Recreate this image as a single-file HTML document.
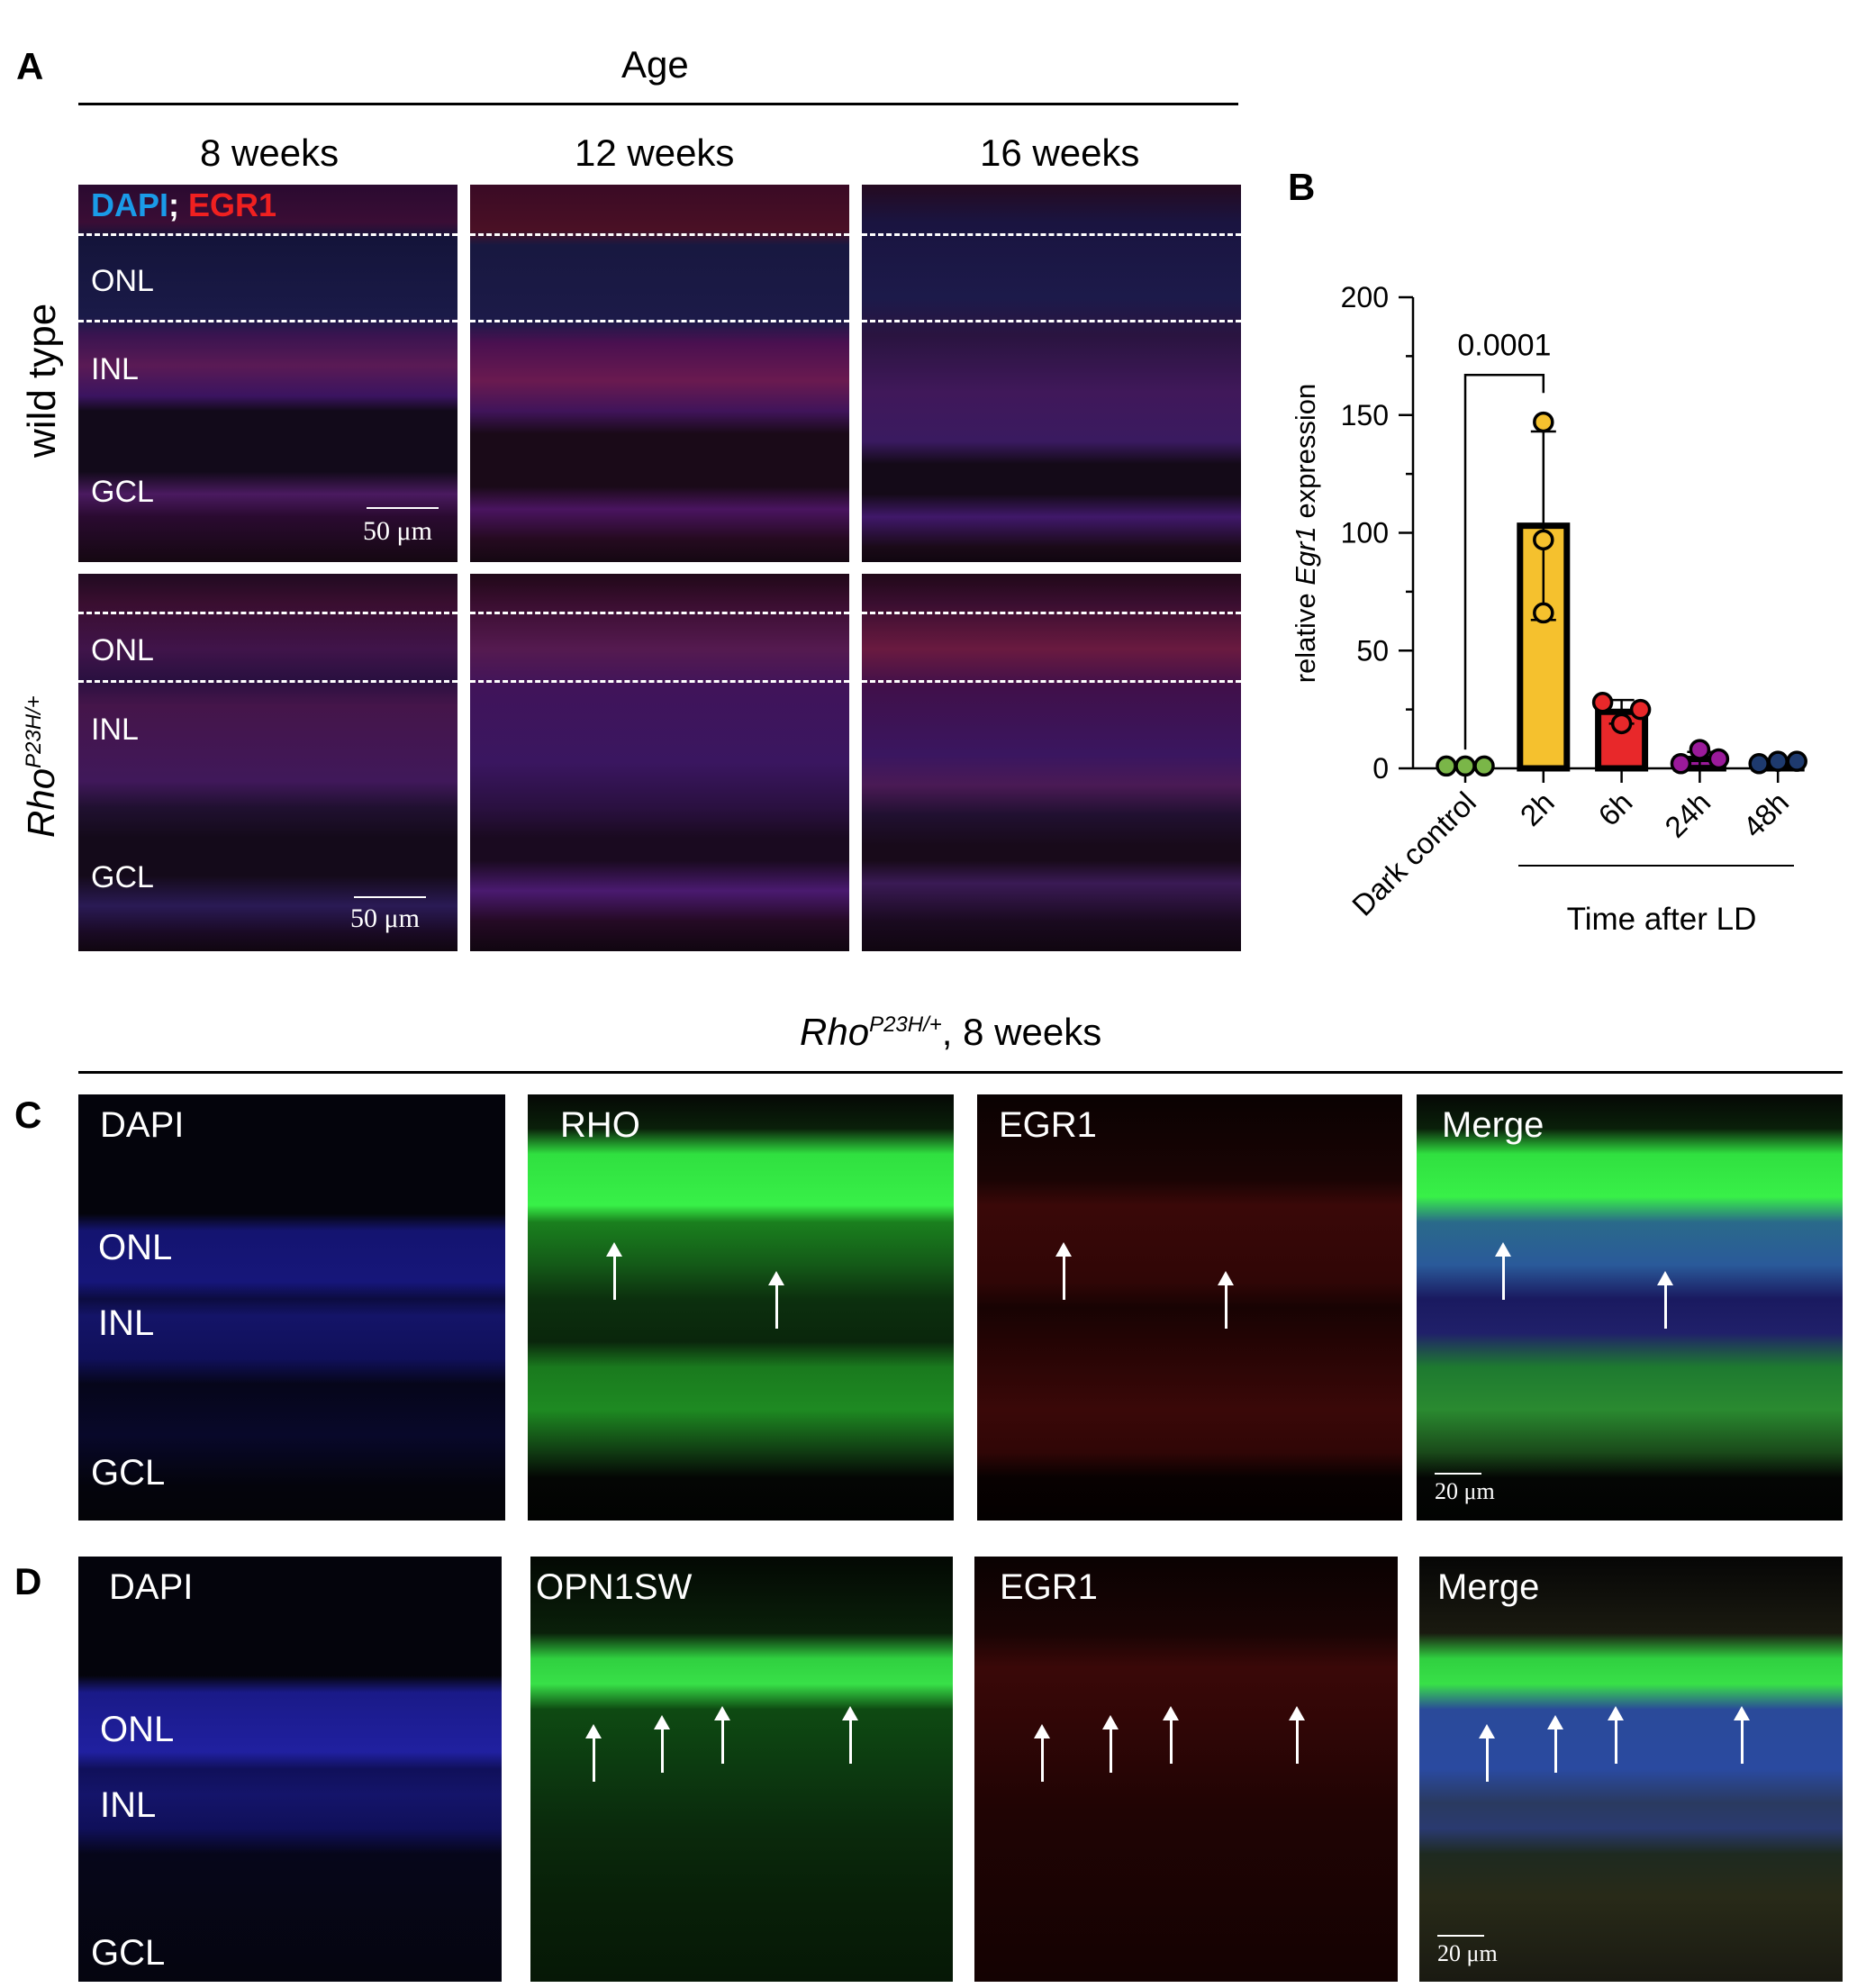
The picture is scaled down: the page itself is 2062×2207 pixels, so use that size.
<!DOCTYPE html>
<html><head><meta charset="utf-8">
<style>
body{margin:0;background:#fff;width:2062px;height:2207px;position:relative;overflow:hidden;font-family:"Liberation Sans",sans-serif}
.t{position:absolute;white-space:nowrap}
.img{position:absolute;overflow:hidden}
.lbl{position:absolute;color:#fff;font-size:34px}
.dash{position:absolute;left:0;right:0;border-top:3px dashed #fff}
.sb{position:absolute;color:#fff;font-family:"Liberation Serif",serif;font-size:30px}
.arr{position:absolute;width:3px;background:#fff;height:60px}
.arr:before{content:"";position:absolute;left:-8px;top:-4px;border-left:9.5px solid transparent;border-right:9.5px solid transparent;border-bottom:16px solid #fff}
</style></head><body>
<div class="t" style="left:18px;top:50px;font-size:42px;font-weight:bold">A</div>
<div class="t" style="left:690px;top:48px;font-size:42px">Age</div>
<div style="position:absolute;left:87px;width:1288px;top:114px;border-top:3px solid #000"></div>
<div class="t" style="left:222px;top:146px;font-size:42px">8 weeks</div>
<div class="t" style="left:638px;top:146px;font-size:42px">12 weeks</div>
<div class="t" style="left:1088px;top:146px;font-size:42px">16 weeks</div>
<div class="t" style="left:22px;top:508px;font-size:44px;transform:rotate(-90deg);transform-origin:0 0">wild type</div>
<div class="t" style="left:22px;top:930px;font-size:42px;font-style:italic;transform:rotate(-90deg);transform-origin:0 0">Rho<sup style="font-size:24px">P23H/+</sup></div>

<div class="img" style="left:87px;top:205px;width:421px;height:419px;background:linear-gradient(#2a0a30 0%,#3a0d35 10%,#14143a 14%,#1a1a48 35%,#3a1450 40%,#5a1a55 48%,#3a1460 56%,#120a1a 60%,#120a1a 76%,#4a1a60 82%,#2a0a30 88%,#150812 100%)">
<div class="dash" style="top:54px"></div><div class="dash" style="top:150px"></div>
<div class="t" style="left:14px;top:2px;font-size:36px;font-weight:bold"><span style="color:#1a9be8">DAPI</span><span style="color:#fff">;</span> <span style="color:#f02020">EGR1</span></div>
<div class="lbl" style="left:14px;top:88px">ONL</div><div class="lbl" style="left:14px;top:186px">INL</div><div class="lbl" style="left:14px;top:322px">GCL</div>
<div style="position:absolute;left:320px;top:358px;width:80px;border-top:2px solid #fff"></div><div class="sb" style="left:316px;top:368px">50 μm</div></div>
<div class="img" style="left:522px;top:205px;width:421px;height:419px;background:linear-gradient(#3a0a25 0%,#4a1025 12%,#181840 16%,#1c1a48 36%,#4a1050 42%,#6a1a50 52%,#40145a 60%,#1a0a18 66%,#1a0a18 80%,#4a1460 86%,#250a20 94%,#150812 100%)">
<div class="dash" style="top:54px"></div><div class="dash" style="top:150px"></div></div>
<div class="img" style="left:957px;top:205px;width:421px;height:419px;background:linear-gradient(#250a20 0%,#1a1440 10%,#1c1a4a 30%,#2a1440 40%,#40185a 55%,#3a1a60 68%,#140a18 74%,#140a18 82%,#40186a 88%,#1a0a18 96%,#100610 100%)">
<div class="dash" style="top:54px"></div><div class="dash" style="top:150px"></div></div>
<div class="img" style="left:87px;top:637px;width:421px;height:419px;background:linear-gradient(#200a20 0%,#3a0e30 8%,#40144a 20%,#2a1040 28%,#45154a 35%,#40185a 55%,#201030 62%,#140a1a 70%,#140a1a 80%,#2a1a55 88%,#1a0a25 95%,#100610 100%)">
<div class="dash" style="top:42px"></div><div class="dash" style="top:118px"></div>
<div class="lbl" style="left:14px;top:66px">ONL</div><div class="lbl" style="left:14px;top:154px">INL</div><div class="lbl" style="left:14px;top:318px">GCL</div>
<div style="position:absolute;left:306px;top:358px;width:80px;border-top:2px solid #fff"></div><div class="sb" style="left:302px;top:366px">50 μm</div></div>
<div class="img" style="left:522px;top:637px;width:421px;height:419px;background:linear-gradient(#200818 0%,#3a0e30 8%,#551a50 20%,#40145a 30%,#3a1660 50%,#2a1040 62%,#1a0a20 70%,#1a0a20 76%,#4a1a70 84%,#250a25 92%,#100610 100%)">
<div class="dash" style="top:42px"></div><div class="dash" style="top:118px"></div></div>
<div class="img" style="left:957px;top:637px;width:421px;height:419px;background:linear-gradient(#200818 0%,#3a0e30 8%,#6a1a40 20%,#40104a 30%,#3a1660 48%,#4a1a55 56%,#201030 64%,#180a1a 72%,#180a1a 76%,#3a1a55 82%,#1a0a20 92%,#100610 100%)">
<div class="dash" style="top:42px"></div><div class="dash" style="top:118px"></div></div>

<div class="t" style="left:1430px;top:184px;font-size:42px;font-weight:bold">B</div>
<svg id="chart" style="position:absolute;left:0;top:0" width="2062" height="1100"></svg>

<div class="t" style="left:888px;top:1122px;font-size:42px"><i>Rho<sup style="font-size:24px">P23H/+</sup></i>, 8 weeks</div>
<div style="position:absolute;left:87px;width:1959px;top:1189px;border-top:3px solid #000"></div>
<div class="t" style="left:16px;top:1214px;font-size:42px;font-weight:bold">C</div>
<div class="t" style="left:16px;top:1732px;font-size:42px;font-weight:bold">D</div>

<div class="img" style="left:87px;top:1215px;width:474px;height:473px;background:linear-gradient(#04040c 0%,#04040c 28%,#141470 32%,#16167a 44%,#0c0c40 48%,#141468 52%,#10105a 62%,#06061a 68%,#08082a 80%,#04040c 92%,#040408 100%)">
<div class="lbl" style="left:24px;top:12px;font-size:40px">DAPI</div><div class="lbl" style="left:22px;top:148px;font-size:40px">ONL</div><div class="lbl" style="left:22px;top:232px;font-size:40px">INL</div><div class="lbl" style="left:14px;top:398px;font-size:40px">GCL</div></div>
<div class="img" style="left:586px;top:1215px;width:473px;height:473px;background:linear-gradient(#050805 0%,#0a200a 8%,#30e040 14%,#38f048 26%,#1a801e 30%,#145a18 40%,#0c300e 48%,#0a260c 58%,#1a7a1e 64%,#1e8a22 74%,#103a12 84%,#040604 90%,#020302 100%)">
<div class="lbl" style="left:36px;top:12px;font-size:40px">RHO</div>
<div class="arr" style="left:95px;top:168px"></div><div class="arr" style="left:275px;top:200px"></div></div>
<div class="img" style="left:1085px;top:1215px;width:472px;height:473px;background:linear-gradient(#0a0202 0%,#1a0404 20%,#3a0808 26%,#300606 44%,#180303 50%,#2a0505 62%,#3a0808 74%,#300606 84%,#080101 90%,#040000 100%)">
<div class="lbl" style="left:24px;top:12px;font-size:40px">EGR1</div>
<div class="arr" style="left:95px;top:168px"></div><div class="arr" style="left:275px;top:200px"></div></div>
<div class="img" style="left:1573px;top:1215px;width:473px;height:473px;background:linear-gradient(#050805 0%,#0a200a 8%,#30e040 14%,#38f048 24%,#2a6a8a 30%,#2a5a9a 40%,#1a1a60 48%,#20206a 56%,#1e7a30 64%,#2a8a30 74%,#1a4a1a 84%,#040604 90%,#020302 100%)">
<div class="lbl" style="left:28px;top:12px;font-size:40px">Merge</div>
<div class="arr" style="left:95px;top:168px"></div><div class="arr" style="left:275px;top:200px"></div>
<div style="position:absolute;left:20px;top:420px;width:52px;border-top:2px solid #fff"></div><div class="sb" style="left:20px;top:426px;font-size:26px">20 μm</div></div>

<div class="img" style="left:87px;top:1728px;width:470px;height:472px;background:linear-gradient(#04040c 0%,#04040c 28%,#1a1a88 32%,#2020a0 46%,#10105a 50%,#14146a 56%,#10105a 64%,#06061a 70%,#05050f 100%)">
<div class="lbl" style="left:34px;top:12px;font-size:40px">DAPI</div><div class="lbl" style="left:24px;top:170px;font-size:40px">ONL</div><div class="lbl" style="left:24px;top:254px;font-size:40px">INL</div><div class="lbl" style="left:14px;top:418px;font-size:40px">GCL</div></div>
<div class="img" style="left:589px;top:1728px;width:469px;height:472px;background:linear-gradient(#030803 0%,#0a200a 18%,#30d040 24%,#38e048 30%,#0e4a12 36%,#0c3a10 50%,#0a2a0c 64%,#082008 80%,#061806 100%)">
<div class="lbl" style="left:6px;top:12px;font-size:40px">OPN1SW</div>
<div class="arr" style="left:69px;top:190px"></div><div class="arr" style="left:145px;top:180px"></div><div class="arr" style="left:212px;top:170px"></div><div class="arr" style="left:354px;top:170px"></div></div>
<div class="img" style="left:1082px;top:1728px;width:470px;height:472px;background:linear-gradient(#0a0202 0%,#1a0404 18%,#3a0808 26%,#300606 40%,#200404 60%,#1a0303 80%,#140202 100%)">
<div class="lbl" style="left:28px;top:12px;font-size:40px">EGR1</div>
<div class="arr" style="left:74px;top:190px"></div><div class="arr" style="left:150px;top:180px"></div><div class="arr" style="left:217px;top:170px"></div><div class="arr" style="left:357px;top:170px"></div></div>
<div class="img" style="left:1576px;top:1728px;width:470px;height:472px;background:linear-gradient(#060606 0%,#1a1a10 18%,#30d040 24%,#38e048 30%,#2a4a9a 36%,#2a4aa0 50%,#2a3a60 58%,#2a3a70 64%,#1e2a20 70%,#282a18 80%,#1a1a12 100%)">
<div class="lbl" style="left:20px;top:12px;font-size:40px">Merge</div>
<div class="arr" style="left:74px;top:190px"></div><div class="arr" style="left:150px;top:180px"></div><div class="arr" style="left:217px;top:170px"></div><div class="arr" style="left:357px;top:170px"></div>
<div style="position:absolute;left:20px;top:420px;width:52px;border-top:2px solid #fff"></div><div class="sb" style="left:20px;top:426px;font-size:26px">20 μm</div></div>

<script>
const categories=["Dark control","2h","6h","24h","48h"];
const ptsDark=[1,1,1];
const pts2h=[147,97,66];
const pts6h=[28,19,25];
const pts24h=[2,8,4];
const pts48h=[2,3,3];
const means=[1,103,24,4,3];
const sds=[0,40,5,3,0.5];
const colors=["#7ab648","#f5c12e","#e8282a","#9a1a9a","#1e3a6e"];
const yTicks=[0,50,100,150,200];
const pValue="0.0001";
const allPts=[ptsDark,pts2h,pts6h,pts24h,pts48h];
const svg=document.getElementById('chart');
const NS="http://www.w3.org/2000/svg";
const y0=853,y1=330,vmax=200;
function y(v){return y0-(v/vmax)*(y0-y1);}
function x(i){return 1627+i*86.8;}
function mk(t,a,parent){const e=document.createElementNS(NS,t);for(const k in a)e.setAttribute(k,a[k]);(parent||svg).appendChild(e);return e;}
let ax=mk('line',{x1:1569,y1:y(0),x2:1569,y2:y(vmax),stroke:'#000','stroke-width':2.5});


let xa=mk('line',{x1:1569,y1:y(0),x2:2000,y2:y(0),stroke:'#000','stroke-width':2.5});


for(let v=0;v<=vmax;v+=25){mk('line',{x1:v%50?1561:1553,y1:y(v),x2:1569,y2:y(v),stroke:'#000','stroke-width':2.5});}
yTicks.forEach(v=>{const t=mk('text',{x:1542,y:y(v)+11,'text-anchor':'end','font-size':32,'font-family':'Liberation Sans'});t.textContent=v;

});
const yl=mk('text',{transform:'translate(1460,592) rotate(-90)','text-anchor':'middle','font-size':31,'font-family':'Liberation Sans'});
yl.innerHTML='relative <tspan font-style="italic">Egr1</tspan> expression';


categories.forEach((c,i)=>{
 const cx=x(i);
 mk('line',{x1:cx,y1:y(0),x2:cx,y2:y(0)+16,stroke:'#000','stroke-width':2.5});
 if(i>0){const b=mk('rect',{x:cx-26,y:y(means[i]),width:52,height:y(0)-y(means[i]),fill:colors[i],stroke:'#000','stroke-width':7});
 
 }
 if(sds[i]>0){const t=y(means[i]+sds[i]),bt=y(means[i]-sds[i]);
  mk('line',{x1:cx,y1:t,x2:cx,y2:bt,stroke:'#000','stroke-width':2.5});
  mk('line',{x1:cx-14,y1:t,x2:cx+14,y2:t,stroke:'#000','stroke-width':2.5});
  mk('line',{x1:cx-14,y1:bt,x2:cx+14,y2:bt,stroke:'#000','stroke-width':2.5});}
 const pts=allPts[i];
 pts.forEach((v,j)=>{const off=i==1?0:(j-1)*21;const p=mk('circle',{cx:cx+off,cy:y(v),r:10,fill:colors[i],stroke:'#000','stroke-width':3.5});
 
 });
 const tl=mk('text',{transform:`translate(${cx+14},${y(0)+40}) rotate(-45)`,'text-anchor':'end','font-size':33,'font-family':'Liberation Sans'});tl.textContent=c;
 
 
});
const by=y(167);
mk('path',{d:`M${x(0)},${y(8)} V${by} H${x(1)} V${by+20}`,fill:'none',stroke:'#000','stroke-width':2.5});
const pv=mk('text',{x:(x(0)+x(1))/2,y:by-22,'text-anchor':'middle','font-size':34,'font-family':'Liberation Sans'});pv.textContent=pValue;


mk('line',{x1:1686,y1:961,x2:1992,y2:961,stroke:'#000','stroke-width':2});
const tt=mk('text',{x:1845,y:1032,'text-anchor':'middle','font-size':35,'font-family':'Liberation Sans'});tt.textContent='Time after LD';


</script>
</body></html>
